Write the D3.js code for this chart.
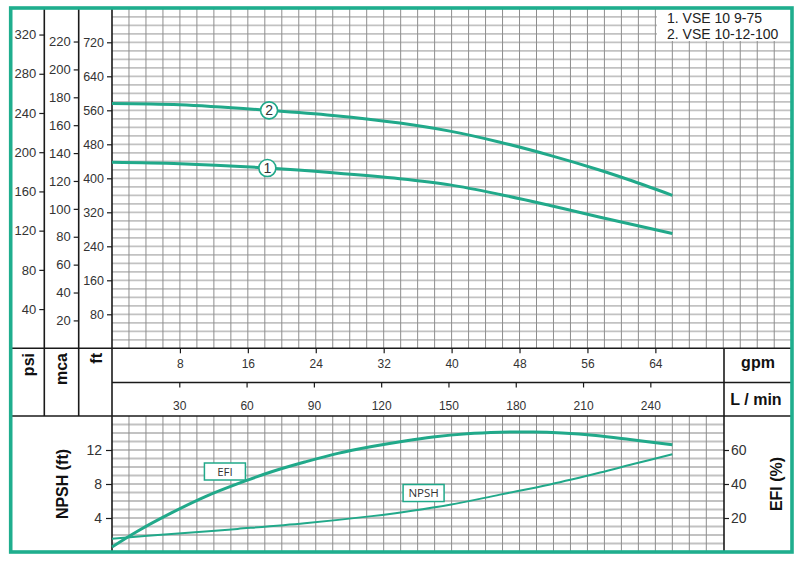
<!DOCTYPE html>
<html><head><meta charset="utf-8">
<script src="https://cdn.jsdelivr.net/npm/d3@7/dist/d3.min.js"></script>
<style>
html,body{margin:0;padding:0;background:#fff;}
svg{display:block;font-family:"Liberation Sans",Arial,sans-serif;}
</style></head>
<body><svg id="c" width="802" height="562"></svg>
<script>
// ---------- data ----------
const gpmTicks = [8,16,24,32,40,48,56,64];
const lpmTicks = [30,60,90,120,150,180,210,240];
const ftTicks = [80,160,240,320,400,480,560,640,720];
const psiTicks = [40,80,120,160,200,240,280,320];
const mcaTicks = [20,40,60,80,100,120,140,160,180,200,220];
const npshTicks = [4,8,12];
const efiTicks = [20,40,60];
const legendItems = ["1. VSE 10 9-75","2. VSE 10-12-100"];

const curve1Gpm = [0, 8, 18.4, 26, 33.9, 39.8, 45.7, 51.6, 57.5, 66];
const curve1Ft  = [438, 434.5, 424, 413, 399, 384.5, 362, 336, 308.5, 270];
const curve2Gpm = [0, 8, 18.4, 26, 33.9, 39.8, 45.7, 51.6, 57.5, 61.4, 66];
const curve2Ft  = [576, 573, 560, 548, 530, 511, 485, 454, 419, 393, 360];
const curveLabelIds = ["1","2"];
const curveLabelGpm = [18.3, 18.5];

const efiGpm = [0, 3.1, 7.0, 11.0, 15.7, 18.8, 22.7, 26.6, 30.6, 34.5, 37.8, 41.8, 45.7, 49.6, 53, 57, 61, 66];
const efiVal = [2.9, 12.5, 23.0, 32.6, 41.8, 47.2, 52.9, 58.0, 62.0, 65.3, 67.6, 69.5, 70.4, 70.6, 70.0, 68.5, 66.2, 63.1];
const npshGpm = [0, 7.0, 14.8, 22.7, 30.6, 34.2, 39.8, 45.7, 51.6, 57.5, 61.4, 66];
const npshVal = [1.56, 2.12, 2.72, 3.38, 4.22, 4.68, 5.55, 6.75, 7.95, 9.35, 10.35, 11.49];
const boxLabels = ["EFI","NPSH"];
const boxGpm = [13.3, 36.7];
const boxNpsh = [9.47, 6.94];

// ---------- layout ----------
const GREEN = "#1fae8e", CURVE = "#21a98a";
const X0 = 112, XTOP = 791.5, XBOT = 724;
const Y_TOP = 8, Y_MAIN_BOT = 348.3, Y_ROW = 382.5, Y_MID_BOT = 416, Y_BOT = 552;
const svg = d3.select("#c");

const x = d3.scaleLinear().domain([0, 80]).range([X0, X0 + 80*8.49]);
const xL = d3.scaleLinear().domain([0, 80*3.785]).range([X0, X0 + 80*8.49]);
const yFt = d3.scaleLinear().domain([0, 795]).range([Y_MAIN_BOT, Y_MAIN_BOT - 795*0.425]);
const yPsi = d3.scaleLinear().domain([0, 795/2.307]).range(yFt.range());
const yMca = d3.scaleLinear().domain([0, 795/3.281]).range(yFt.range());
const yN = d3.scaleLinear().domain([0, 16]).range([Y_BOT, Y_MID_BOT]);
const yE = d3.scaleLinear().domain([0, 80]).range([Y_BOT, Y_MID_BOT]);

// ---------- grids ----------
const g = svg.append("g");
const topH = d3.range(20, 795, 20);
g.selectAll(".th").data(topH).join("line")
  .attr("x1", X0).attr("x2", XTOP).attr("y1", d=>yFt(d)).attr("y2", d=>yFt(d))
  .attr("stroke", "#c2c2c2").attr("stroke-width", 1.8);
g.selectAll(".tv").data(d3.range(2, 80, 2)).join("line")
  .attr("x1", d=>x(d)).attr("x2", d=>x(d)).attr("y1", Y_TOP).attr("y2", Y_MAIN_BOT)
  .attr("stroke", "#8e8e8e").attr("stroke-width", 1);
g.selectAll(".bh").data(d3.range(1, 16, 1)).join("line")
  .attr("x1", X0).attr("x2", XBOT).attr("y1", d=>yN(d)).attr("y2", d=>yN(d))
  .attr("stroke", "#c2c2c2").attr("stroke-width", 1.8);
g.selectAll(".bv").data(d3.range(2, 72, 2)).join("line")
  .attr("x1", d=>x(d)).attr("x2", d=>x(d)).attr("y1", Y_MID_BOT).attr("y2", Y_BOT)
  .attr("stroke", "#8e8e8e").attr("stroke-width", 1);

// legend
const lg = svg.append("g");
lg.append("rect").attr("x", 657).attr("y", Y_TOP).attr("width", 135).attr("height", 33).attr("fill", "#fff");
lg.selectAll("text").data(legendItems).join("text")
  .attr("x", 667).attr("y", (d,i)=>23 + i*15.5)
  .attr("font-size", 14).attr("fill", "#222").text(d=>d);

// ---------- structure lines ----------
const S = svg.append("g").attr("stroke", "#1a1a1a").attr("stroke-width", 1.6);
S.append("line").attr("x1", 10).attr("x2", 792).attr("y1", Y_MAIN_BOT).attr("y2", Y_MAIN_BOT);
S.append("line").attr("x1", X0).attr("x2", 792).attr("y1", Y_ROW).attr("y2", Y_ROW);
S.append("line").attr("x1", 10).attr("x2", 792).attr("y1", Y_MID_BOT).attr("y2", Y_MID_BOT);
S.append("line").attr("x1", 44.3).attr("x2", 44.3).attr("y1", Y_TOP).attr("y2", Y_MID_BOT);
S.append("line").attr("x1", 78.7).attr("x2", 78.7).attr("y1", Y_TOP).attr("y2", Y_MID_BOT);
S.append("line").attr("x1", X0).attr("x2", X0).attr("y1", Y_TOP).attr("y2", Y_BOT);
S.append("line").attr("x1", XBOT).attr("x2", XBOT).attr("y1", Y_MAIN_BOT).attr("y2", Y_BOT);

// ---------- axes ----------
function styleAxis(sel, fs){
  sel.select(".domain").remove();
  sel.selectAll(".tick line").attr("stroke", "#1a1a1a").attr("stroke-width", 1.2);
  sel.selectAll(".tick text").attr("fill", "#333").attr("font-size", fs)
     .attr("font-family", "Liberation Sans, Arial, sans-serif");
}
svg.append("g").attr("transform", "translate(44.3,0)")
  .call(d3.axisLeft(yPsi).tickValues(psiTicks).tickSize(5).tickPadding(3))
  .call(s=>styleAxis(s, 13));
svg.append("g").attr("transform", "translate(78.7,0)")
  .call(d3.axisLeft(yMca).tickValues(mcaTicks).tickSize(5).tickPadding(3))
  .call(s=>styleAxis(s, 13));
svg.append("g").attr("transform", `translate(${X0},0)`)
  .call(d3.axisLeft(yFt).tickValues(ftTicks).tickSize(5).tickPadding(3))
  .call(s=>styleAxis(s, 12.5));
svg.append("g").attr("transform", `translate(0,${Y_MAIN_BOT})`)
  .call(d3.axisBottom(x).tickValues(gpmTicks).tickSize(5).tickPadding(6))
  .call(s=>styleAxis(s, 12));
svg.append("g").attr("transform", `translate(0,${Y_ROW})`)
  .call(d3.axisBottom(xL).tickValues(lpmTicks).tickSize(5).tickPadding(14))
  .call(s=>styleAxis(s, 12));
svg.append("g").attr("transform", `translate(${X0},0)`)
  .call(d3.axisLeft(yN).tickValues(npshTicks).tickSize(6).tickPadding(4))
  .call(s=>styleAxis(s, 14));
svg.append("g").attr("transform", `translate(${XBOT},0)`)
  .call(d3.axisRight(yE).tickValues(efiTicks).tickSize(5).tickPadding(2))
  .call(s=>styleAxis(s, 14));

// ---------- titles ----------
const T = svg.append("g").attr("font-weight", "bold").attr("fill", "#111").attr("font-size", 16);
[["psi",33.5],["mca",67],["ft",101.5]].forEach(([t,xx])=>{
  T.append("text").attr("transform", `translate(${xx},353) rotate(-90)`)
   .attr("text-anchor", "end").text(t);
});
T.append("text").attr("x", 758).attr("y", 368).attr("text-anchor", "middle").text("gpm");
T.append("text").attr("x", 756).attr("y", 405).attr("text-anchor", "middle").text("L / min");
T.append("text").attr("transform", "translate(68,484) rotate(-90)").attr("text-anchor", "middle").text("NPSH (ft)");
T.append("text").attr("transform", "translate(782,484) rotate(-90)").attr("text-anchor", "middle").text("EFI (%)");

// ---------- curves ----------
const smooth = d3.curveCatmullRom.alpha(0.5);
const lineTop = d3.line().x(d=>x(d[0])).y(d=>yFt(d[1])).curve(smooth);
const c1 = curve1Gpm.map((v,i)=>[v, curve1Ft[i]]);
const c2 = curve2Gpm.map((v,i)=>[v, curve2Ft[i]]);
[c1, c2].forEach(c=>svg.append("path").attr("d", lineTop(c)).attr("fill","none")
  .attr("stroke", CURVE).attr("stroke-width", 3));
const interp = (xs, ys, v)=>{
  for(let i=1;i<xs.length;i++){ if(v<=xs[i]){ const t=(v-xs[i-1])/(xs[i]-xs[i-1]); return ys[i-1]+t*(ys[i]-ys[i-1]); } }
  return ys[ys.length-1];
};
[[curve1Gpm,curve1Ft],[curve2Gpm,curve2Ft]].forEach(([xs,ys],i)=>{
  const gx = curveLabelGpm[i], fy = interp(xs, ys, gx);
  const lgp = svg.append("g").attr("transform", `translate(${x(gx)},${yFt(fy)})`);
  lgp.append("circle").attr("r", 8.5).attr("fill", "#fff").attr("stroke", CURVE).attr("stroke-width", 1.6);
  lgp.append("text").attr("y", 4.8).attr("text-anchor", "middle").attr("font-size", 14).attr("fill", "#333").text(curveLabelIds[i]);
});

const lineE = d3.line().x(d=>x(d[0])).y(d=>yE(d[1])).curve(smooth);
const lineN = d3.line().x(d=>x(d[0])).y(d=>yN(d[1])).curve(smooth);
svg.append("path").attr("d", lineN(npshGpm.map((v,i)=>[v,npshVal[i]]))).attr("fill","none")
  .attr("stroke", CURVE).attr("stroke-width", 2);
svg.append("path").attr("d", lineE(efiGpm.map((v,i)=>[v,efiVal[i]]))).attr("fill","none")
  .attr("stroke", CURVE).attr("stroke-width", 3);

boxLabels.forEach((t,i)=>{
  const bx = x(boxGpm[i]), by = yN(boxNpsh[i]);
  const w = 41, h = 17;
  svg.append("rect").attr("x", bx-w/2).attr("y", by-h/2).attr("width", w).attr("height", h)
    .attr("fill", "#fff").attr("stroke", CURVE).attr("stroke-width", 1.5);
  svg.append("text").attr("x", bx).attr("y", by+4.2).attr("text-anchor", "middle")
    .attr("font-family", "'Open Sans', sans-serif").attr("font-size", 11.5).attr("fill", "#333").text(t);
});

// ---------- outer border ----------
svg.append("rect").attr("x", 10.7).attr("y", 8).attr("width", 781.3).attr("height", 544)
  .attr("fill", "none").attr("stroke", GREEN).attr("stroke-width", 3.6);
</script></body></html>
